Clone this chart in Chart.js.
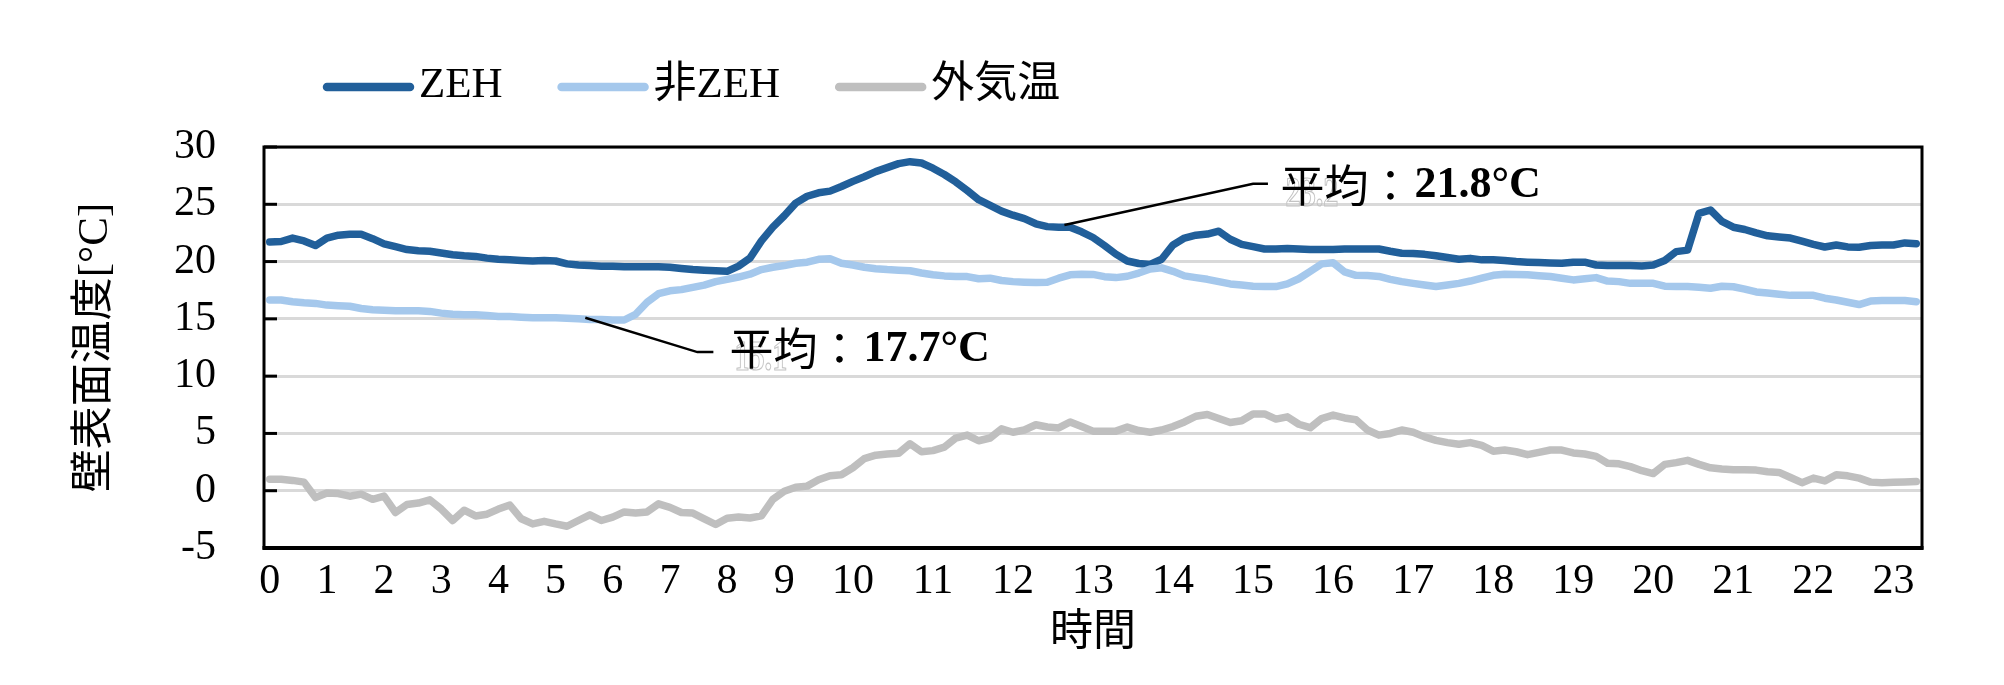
<!DOCTYPE html>
<html>
<head>
<meta charset="utf-8">
<script src="https://cdn.jsdelivr.net/npm/chart.js@4.4.1/dist/chart.umd.min.js"></script>
<style>
html,body{margin:0;padding:0;background:#fff;}
canvas{display:block;}
</style>
</head>
<body>
<canvas id="c" width="2004" height="685"></canvas>
<script>
// ---------------- data ----------------
const hourLabels = ['0','1','2','3','4','5','6','7','8','9','10','11','12','13','14','15','16','17','18','19','20','21','22','23'];
const hourIndex  = [0,5,10,15,20,25,30,35,40,45,51,58,65,72,79,86,93,100,107,114,121,128,135,142];
const pointCount = 145;

const seriesNames = ['ZEH', '非ZEH', '外気温'];

const zeh = [
  21.7, 21.75, 22.05, 21.8, 21.4, 22.05, 22.3, 22.38, 22.38, 22.0,
  21.55, 21.3, 21.05, 20.95, 20.9, 20.75, 20.6, 20.5, 20.45, 20.3,
  20.2, 20.15, 20.1, 20.05, 20.1, 20.05, 19.8, 19.7, 19.65, 19.6,
  19.6, 19.55, 19.55, 19.55, 19.55, 19.5, 19.4, 19.3, 19.25, 19.2,
  19.15, 19.6, 20.3, 21.8, 23.0, 24.0, 25.1, 25.7, 26.0, 26.15,
  26.55, 27.0, 27.4, 27.85, 28.2, 28.55, 28.72, 28.6, 28.15, 27.6,
  26.95, 26.2, 25.4, 24.9, 24.4, 24.05, 23.75, 23.3, 23.05, 23.0,
  23.0, 22.6, 22.1, 21.4, 20.65, 20.05, 19.83, 19.75, 20.2, 21.45,
  22.05, 22.3, 22.4, 22.65, 21.95, 21.5, 21.3, 21.1, 21.1, 21.15,
  21.1, 21.05, 21.05, 21.05, 21.1, 21.1, 21.1, 21.1, 20.9, 20.73,
  20.7, 20.63, 20.5, 20.35, 20.2, 20.28, 20.15, 20.15, 20.1, 20.0,
  19.95, 19.92, 19.88, 19.85, 19.95, 19.95, 19.7, 19.65, 19.65, 19.65,
  19.62, 19.7, 20.1, 20.87, 21.0, 24.2, 24.5, 23.5, 23.0, 22.8,
  22.5, 22.25, 22.15, 22.05, 21.78, 21.5, 21.27, 21.45, 21.28, 21.25,
  21.4, 21.45, 21.45, 21.63, 21.55
];

const nonZeh = [
  16.65, 16.65, 16.5, 16.4, 16.35, 16.2, 16.15, 16.1, 15.9, 15.8,
  15.75, 15.7, 15.7, 15.7, 15.65, 15.5, 15.4, 15.35, 15.35, 15.3,
  15.2, 15.2, 15.15, 15.1, 15.1, 15.1, 15.05, 15.0, 14.95, 14.95,
  14.9, 14.9, 15.4, 16.45, 17.2, 17.45, 17.55, 17.75, 17.95, 18.25,
  18.45, 18.65, 18.9, 19.3, 19.5, 19.65, 19.85, 19.95, 20.2, 20.25,
  19.85, 19.7, 19.5, 19.38, 19.3, 19.25, 19.2, 19.0, 18.85, 18.75,
  18.7, 18.69, 18.5, 18.55, 18.35, 18.25, 18.2, 18.17, 18.2, 18.55,
  18.84, 18.9, 18.88, 18.68, 18.6, 18.72, 19.0, 19.35, 19.45, 19.15,
  18.75, 18.6, 18.45, 18.25, 18.05, 17.95, 17.85, 17.82, 17.82, 18.05,
  18.5, 19.15, 19.8, 19.9, 19.1, 18.8, 18.78, 18.7, 18.45, 18.25,
  18.1, 17.95, 17.82, 17.95, 18.1, 18.3, 18.55, 18.8, 18.9, 18.88,
  18.84, 18.77, 18.7, 18.55, 18.4, 18.5, 18.6, 18.3, 18.25, 18.1,
  18.1, 18.1, 17.85, 17.82, 17.82, 17.75, 17.67, 17.85, 17.8, 17.6,
  17.35, 17.25, 17.15, 17.05, 17.05, 17.05, 16.8, 16.65, 16.45, 16.25,
  16.55, 16.6, 16.6, 16.6, 16.5
];

const outdoor = [
  1.0, 1.0, 0.9, 0.75, -0.6, -0.2, -0.25, -0.48, -0.3, -0.75,
  -0.47, -1.9, -1.2, -1.08, -0.8, -1.6, -2.6, -1.7, -2.2, -2.05,
  -1.6, -1.25, -2.45, -2.9, -2.67, -2.9, -3.1, -2.6, -2.1, -2.6,
  -2.3, -1.85, -1.95, -1.85, -1.15, -1.45, -1.9, -1.95, -2.45, -2.95,
  -2.4, -2.3, -2.38, -2.2, -0.75, -0.05, 0.3, 0.4, 0.95, 1.3,
  1.4, 2.0, 2.8, 3.1, 3.2, 3.27, 4.1, 3.4, 3.5, 3.8,
  4.6, 4.86, 4.36, 4.6, 5.4, 5.1, 5.3, 5.76, 5.56, 5.48,
  6.0, 5.6, 5.2, 5.2, 5.2, 5.55, 5.25, 5.1, 5.3, 5.6,
  6.0, 6.5, 6.65, 6.3, 5.95, 6.1, 6.7, 6.7, 6.25, 6.45,
  5.8, 5.5, 6.3, 6.6, 6.35, 6.2, 5.3, 4.85, 5.0, 5.3,
  5.1, 4.7, 4.4, 4.2, 4.05, 4.2, 3.95, 3.45, 3.55, 3.4,
  3.15, 3.35, 3.55, 3.55, 3.3, 3.2, 3.0, 2.4, 2.35, 2.1,
  1.75, 1.5, 2.3, 2.45, 2.65, 2.3, 2.0, 1.9, 1.83, 1.83,
  1.8, 1.65, 1.6, 1.15, 0.7, 1.1, 0.85, 1.4, 1.3, 1.1,
  0.75, 0.7, 0.73, 0.76, 0.8
];

const yMin = -5, yMax = 30, yStep = 5;
const averageTexts = ['21.8°C', '17.7°C'];
const ghostTexts = ['23.2', '15.1'];

// ---------------- build ----------------
const categories = new Array(pointCount).fill('');
hourIndex.forEach((k, h) => { categories[k] = hourLabels[h]; });

const colors = ['#215f9a', '#a5c8ec', '#bfbfbf'];
const LATIN = '"Liberation Serif", "Noto Sans CJK JP", serif';
const CJK = '"Noto Sans CJK JP", "Liberation Serif", sans-serif';

// leader/label placement in data units: [category index, value]
const callouts = [
  { series: 0, anchor: [69.5, 23.2], elbow: [86.0, 26.8], end: [87.3, 26.8], text: [88.4, 26.7] },
  { series: 1, anchor: [27.6, 15.1], elbow: [37.4, 12.1], end: [38.8, 12.1], text: [40.2, 12.4] }
];

const framePlugin = {
  id: 'frame',
  beforeDatasetsDraw(chart) {
    const {ctx, chartArea: a, scales} = chart;
    ctx.save();
    ctx.strokeStyle = '#000';
    ctx.lineWidth = 3;
    ctx.strokeRect(a.left, a.top, a.right - a.left, a.bottom - a.top);
    ctx.lineWidth = 4;
    ctx.beginPath();
    ctx.moveTo(a.left - 1.5, a.bottom);
    ctx.lineTo(a.right + 1.5, a.bottom);
    ctx.stroke();
    // inside major tick marks on the value axis
    ctx.lineWidth = 3;
    scales.y.ticks.forEach(t => {
      const y = scales.y.getPixelForValue(t.value);
      ctx.beginPath();
      ctx.moveTo(a.left, y);
      ctx.lineTo(a.left + 13, y);
      ctx.stroke();
    });
    ctx.restore();
  }
};

const overlayPlugin = {
  id: 'overlay',
  afterDraw(chart) {
    const {ctx, scales} = chart;
    const X = v => scales.x.getPixelForValue(v);
    const Y = v => scales.y.getPixelForValue(v);
    ctx.save();
    // legend
    ctx.font = '43px ' + LATIN;
    ctx.textBaseline = 'middle';
    ctx.textAlign = 'left';
    let lx = 323;
    const ly = 86;
    seriesNames.forEach((name, i) => {
      ctx.strokeStyle = colors[i];
      ctx.lineWidth = 8.5;
      ctx.lineCap = 'round';
      ctx.beginPath();
      ctx.moveTo(lx + 4, ly + 1);
      ctx.lineTo(lx + 87, ly + 1);
      ctx.stroke();
      ctx.fillStyle = '#000';
      ctx.fillText(name, lx + 96, ly);
      lx = lx + 96 + ctx.measureText(name).width + 55;
    });
    // callouts
    callouts.forEach((c, i) => {
      ctx.strokeStyle = '#000';
      ctx.lineWidth = 2.5;
      ctx.lineCap = 'butt';
      ctx.beginPath();
      ctx.moveTo(X(c.anchor[0]), Y(c.anchor[1]));
      ctx.lineTo(X(c.elbow[0]), Y(c.elbow[1]));
      ctx.lineTo(X(c.end[0]), Y(c.end[1]));
      ctx.stroke();
      const tx = X(c.text[0]);
      const ty = Y(c.text[1]);
      // faint ghost text left in the source figure
      ctx.save();
      ctx.translate(tx + 5, ty + 21);
      ctx.scale(0.72, 1);
      ctx.font = 'bold 42px ' + LATIN;
      ctx.textBaseline = 'alphabetic';
      ctx.strokeStyle = '#c4c4c4';
      ctx.lineWidth = 1.2;
      ctx.strokeText(ghostTexts[i], 0, 0);
      ctx.restore();
      ctx.fillStyle = '#000';
      ctx.textBaseline = 'middle';
      ctx.font = '44px ' + CJK;
      const head = '平均：';
      ctx.fillText(head, tx, ty);
      const w = ctx.measureText(head).width;
      ctx.font = 'bold 44px ' + LATIN;
      ctx.fillText(averageTexts[i], tx + w + 2, ty + 1);
    });
    ctx.restore();
  }
};

const mk = (label, data, i, order) => ({
  label, data,
  borderColor: colors[i],
  backgroundColor: colors[i],
  borderWidth: 7.5,
  pointRadius: 0,
  pointHoverRadius: 0,
  tension: 0,
  fill: false,
  borderJoinStyle: 'round',
  borderCapStyle: 'round',
  order
});

new Chart(document.getElementById('c'), {
  type: 'line',
  data: {
    labels: categories,
    datasets: [
      mk(seriesNames[0], zeh, 0, 3),
      mk(seriesNames[1], nonZeh, 1, 2),
      mk(seriesNames[2], outdoor, 2, 1)
    ]
  },
  options: {
    responsive: false,
    devicePixelRatio: 1,
    animation: false,
    events: [],
    layout: { padding: { left: 0, right: 82, top: 147, bottom: 0 } },
    plugins: {
      legend: { display: false },
      tooltip: { enabled: false }
    },
    scales: {
      x: {
        type: 'category',
        offset: true,
        grid: { display: false, drawTicks: false },
        border: { display: false },
        ticks: {
          autoSkip: false,
          maxRotation: 0,
          minRotation: 0,
          padding: 13,
          color: '#000',
          font: { family: LATIN, size: 42, lineHeight: 1 },
          callback: (v, i) => categories[i]
        },
        title: {
          display: true,
          text: '時間',
          color: '#000',
          font: { family: LATIN, size: 43, lineHeight: 1 },
          padding: { top: 0, bottom: 30 }
        },
        afterFit(s) { s.height = 137; }
      },
      y: {
        type: 'linear',
        min: yMin,
        max: yMax,
        grid: { color: '#d9d9d9', lineWidth: 3, drawTicks: false },
        border: { display: false },
        ticks: {
          stepSize: yStep,
          padding: 48,
          color: '#000',
          font: { family: LATIN, size: 42, lineHeight: 1 }
        },
        title: {
          display: true,
          text: '壁表面温度[°C]',
          color: '#000',
          font: { family: LATIN, size: 43, lineHeight: 1 },
          padding: { top: 74, bottom: 0 }
        },
        afterFit(s) { s.width = 264; }
      }
    }
  },
  plugins: [framePlugin, overlayPlugin]
});
</script>
</body>
</html>
